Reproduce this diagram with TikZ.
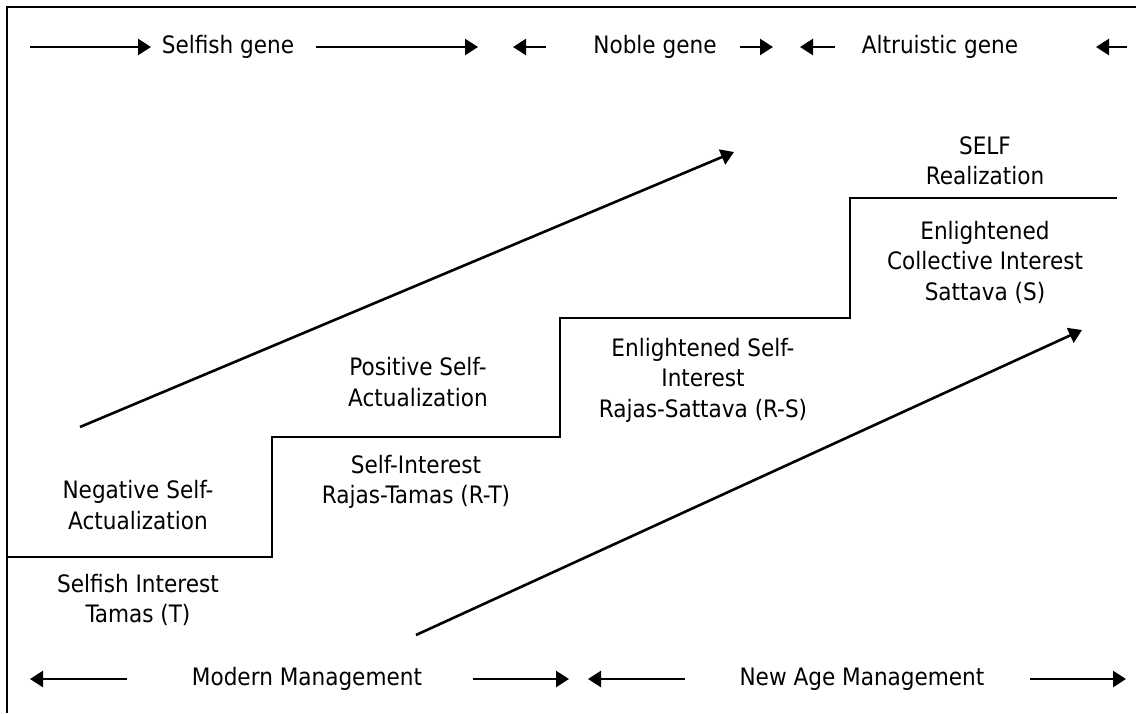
\documentclass[tikz,border=0pt]{standalone}
\usepackage{fontspec}
\setmainfont{DejaVu Sans Condensed}
\usetikzlibrary{arrows.meta}
\begin{document}
\begin{tikzpicture}[x=1pt,y=-1pt,
  lbl/.style={font=\fontsize{24}{30.5}\selectfont, align=center, inner sep=0pt},
  ln/.style={line width=2.6pt},
  arr/.style={ln,-{Triangle[length=13pt,width=16pt]}},
  frame/.style={line width=2.8pt}
]
\useasboundingbox (0,0) rectangle (1136,713);
\fill[white] (0,0) rectangle (1136,713);
% frame
\coordinate (fbl) at (7,713);
\coordinate (ftl) at (7,7);
\coordinate (ftr) at (1136,7);
\draw[frame] (fbl) -- (ftl) -- (ftr);

% top row
\node[lbl] (selfish) at (228,47) {Selfish gene};
\node[lbl] (noble) at (655,47) {Noble gene};
\node[lbl] (altru) at (940,47) {Altruistic gene};
\coordinate (t1a) at (30,47);   \coordinate (t1b) at (151,47);
\coordinate (t2a) at (316,47);  \coordinate (t2b) at (478,47);
\coordinate (t3a) at (546,47);  \coordinate (t3b) at (513,47);
\coordinate (t4a) at (740,47);  \coordinate (t4b) at (773,47);
\coordinate (t5a) at (835,47);  \coordinate (t5b) at (800,47);
\coordinate (t6a) at (1127,47); \coordinate (t6b) at (1096,47);
\foreach \i in {1,...,6} \draw[arr] (t\i a) -- (t\i b);

% bottom row
\node[lbl] (modern) at (307,679) {Modern Management};
\node[lbl] (newage) at (862,679) {New Age Management};
\coordinate (b1a) at (127,679);  \coordinate (b1b) at (30,679);
\coordinate (b2a) at (473,679);  \coordinate (b2b) at (569,679);
\coordinate (b3a) at (685,679);  \coordinate (b3b) at (588,679);
\coordinate (b4a) at (1030,679); \coordinate (b4b) at (1126,679);
\foreach \i in {1,...,4} \draw[arr] (b\i a) -- (b\i b);

% staircase
\coordinate (s0) at (7,557);
\coordinate (s1) at (272,557);
\coordinate (s2) at (272,437);
\coordinate (s3) at (560,437);
\coordinate (s4) at (560,318);
\coordinate (s5) at (850,318);
\coordinate (s6) at (850,198);
\coordinate (s7) at (1117,198);
\draw[ln] (s0) -- (s1) -- (s2) -- (s3) -- (s4) -- (s5) -- (s6) -- (s7);

% diagonal arrows
\coordinate (u0) at (80,427);  \coordinate (u1) at (734,152);
\coordinate (l0) at (416,635); \coordinate (l1) at (1082,330);
\draw[arr] (u0) -- (u1);
\draw[arr] (l0) -- (l1);

% labels
\node[lbl] (selfint) at (138,600) {Selfish Interest\\Tamas (T)};
\node[lbl] (negsa) at (138,505) {Negative Self-\\Actualization};
\node[lbl] (selfi) at (416,482) {Self-Interest\\Rajas-Tamas (R-T)};
\node[lbl] (possa) at (418,382) {Positive Self-\\Actualization};
\node[lbl] (enlself) at (703,380) {Enlightened Self-\\Interest\\Rajas-Sattava (R-S)};
\node[lbl] (enlcoll) at (985,262) {Enlightened\\Collective Interest\\Sattava (S)};
\node[lbl] (selfreal) at (985,161) {SELF\\Realization};
\end{tikzpicture}
\end{document}
